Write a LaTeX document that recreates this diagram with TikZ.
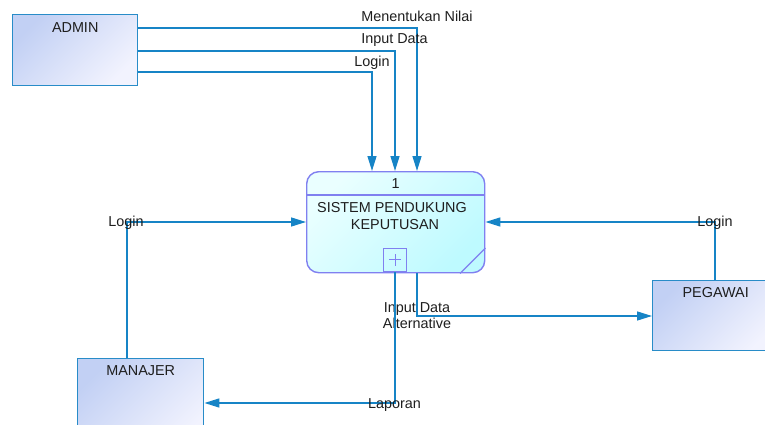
\documentclass[tikz,border=0pt]{standalone}
\usepackage{fontspec}
\setmainfont{Liberation Sans}
\usetikzlibrary{arrows.meta}
\definecolor{flowc}{RGB}{22,132,198}
\definecolor{boxborder}{RGB}{40,140,200}
\definecolor{boxtl}{RGB}{194,208,244}
\definecolor{boxbr}{RGB}{242,243,254}
\definecolor{procborder}{RGB}{128,128,240}
\definecolor{proctl}{RGB}{234,255,255}
\definecolor{procbr}{RGB}{190,250,255}
\definecolor{txt}{RGB}{30,30,30}
\begin{document}
\begin{tikzpicture}[x=1pt,y=-1pt,
  every node/.style={font=\fontsize{14.4}{16}\selectfont, text=txt},
  entity/.style={draw=boxborder, line width=1.4pt, anchor=north west, inner sep=0,
    top color=boxtl, bottom color=boxbr, shading angle=45},
  lbl/.style={inner sep=0, text height=10pt, text depth=0pt},
  flow/.style={draw=flowc, line width=1.4pt, -{Triangle[length=15pt,width=9pt]}}]
\useasboundingbox (0,0) rectangle (765,425);
\clip (0,0) rectangle (765,425);

% entities
\node[entity, minimum width=125, minimum height=71] (admin) at (12,14) {};
\node[lbl] (adminlbl) at (admin.north |- 0,27.5) {ADMIN};
\node[entity, minimum width=126, minimum height=90] (manajer) at (77,358) {};
\node[lbl] (manajerlbl) at (manajer.north |- 0,370) {MANAJER};
\node[entity, minimum width=126, minimum height=70] (pegawai) at (652,280) {};
\node[lbl] (pegawailbl) at (pegawai.north |- 0,292) {PEGAWAI};

% process
\node[draw=procborder, line width=1.4pt, rounded corners=12pt, anchor=north west, inner sep=0,
  minimum width=178, minimum height=101, top color=proctl, bottom color=procbr, shading angle=45]
  (proc) at (306,171) {};
\draw[procborder, line width=1.2pt] (proc.west |- 0,195) -- (proc.east |- 0,195);
\node[lbl] (procnum) at (proc.north |- 0,183) {1};
\node[lbl] (proct1) at (392,207) {SISTEM PENDUKUNG};
\node[lbl] (proct2) at (395,224) {KEPUTUSAN};
\node[draw=procborder, line width=1.2pt, minimum size=23, inner sep=0, anchor=south] (sub) at (395,272) {};
\draw[procborder, line width=0.9pt] ([xshift=-6]sub.center) -- ([xshift=6]sub.center)
  ([yshift=-6]sub.center) -- ([yshift=6]sub.center);
\draw[procborder, line width=1.2pt] (proc.east |- 0,248) -- (proc.south -| 460,0);

% flows from ADMIN
\draw[flow] (admin.east |- 0,28) -| (proc.north -| 417,0);
\draw[flow] (admin.east |- 0,51) -| (proc.north -| 395,0);
\draw[flow] (admin.east |- 0,72) -| (proc.north -| 372,0);
\node[lbl] (l1) at (417,17) {Menentukan Nilai};
\node[lbl] (l2) at (394.5,39) {Input Data};
\node[lbl] (l3) at (372,62) {Login};

% MANAJER login
\draw[flow] (manajer.north -| 127,0) |- (proc.west |- 0,222);
\node[lbl] (l4) at (126,221) {Login};

% PEGAWAI login
\draw[flow] (pegawai.north -| 715,0) |- (proc.east |- 0,222);
\node[lbl] (l5) at (715,221) {Login};

% Input Data Alternative
\draw[flow] (proc.south -| 417,0) |- (pegawai.west |- 0,316);
\node[inner sep=0, align=center, anchor=north] (l6) at (417,302) {Input Data\\Alternative};

% Laporan
\draw[flow] (sub.south) |- (manajer.east |- 0,403);
\node[lbl] (l7) at (394.5,403) {Laporan};
\end{tikzpicture}
\end{document}
